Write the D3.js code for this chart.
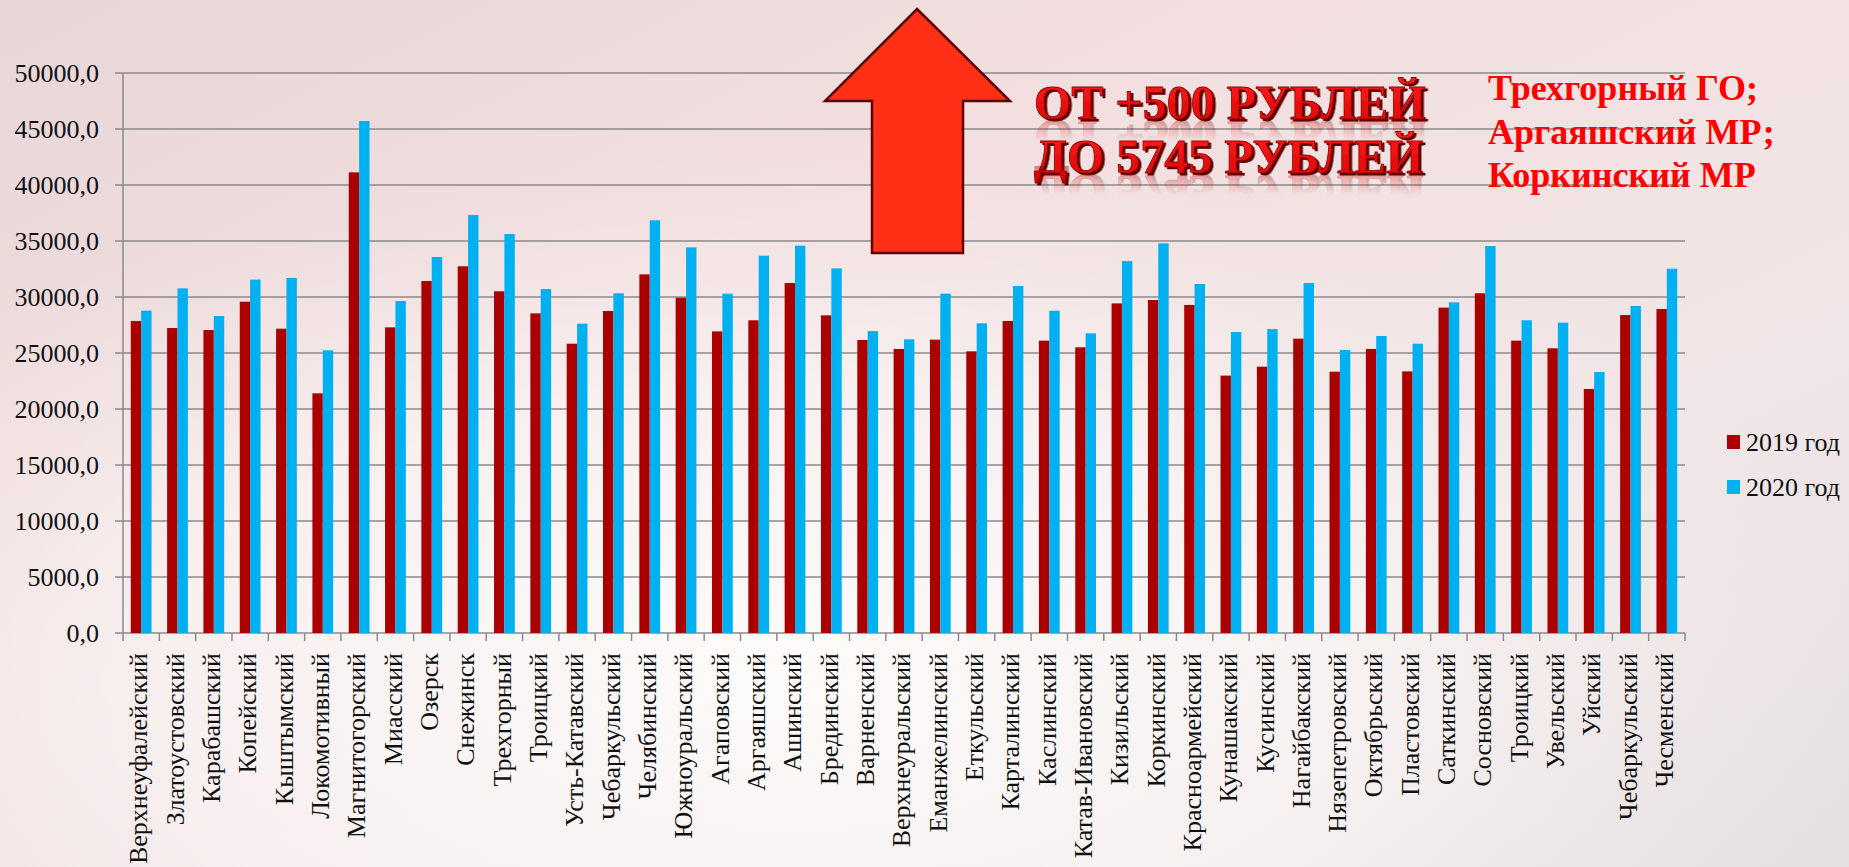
<!DOCTYPE html>
<meta charset="utf-8">
<head>
<style>
body { margin: 0; overflow: hidden; }
svg { display: block; }
text { font-family: "Liberation Serif", "Times New Roman", Tinos, serif; }
.grid line { stroke: #8a8a8a; stroke-width: 1.5; }
.ylab, .xlab, .leg { fill: #111; font-size: 26px; }
</style>
</head>
<body>
<svg width="1849" height="867"></svg>
<script src="https://cdn.jsdelivr.net/npm/d3@7/dist/d3.min.js"></script>
<script>

var districts = ["Верхнеуфалейский", "Златоустовский", "Карабашский", "Копейский", "Кыштымский",
  "Локомотивный", "Магнитогорский", "Миасский", "Озерск", "Снежинск", "Трехгорный", "Троицкий",
  "Усть-Катавский", "Чебаркульский", "Челябинский", "Южноуральский", "Агаповский", "Аргаяшский",
  "Ашинский", "Брединский", "Варненский", "Верхнеуральский", "Еманжелинский", "Еткульский",
  "Карталинский", "Каслинский", "Катав-Ивановский", "Кизильский", "Коркинский", "Красноармейский",
  "Кунашакский", "Кусинский", "Нагайбакский", "Нязепетровский", "Октябрьский", "Пластовский",
  "Саткинский", "Сосновский", "Троицкий ", "Увельский", "Уйский", "Чебаркульский ", "Чесменский"];

var vals2019 = [27860, 27230, 27050, 29580, 27170, 21400, 41130, 27290, 31430, 32740, 30510, 28540,
  25830, 28750, 32020, 29940, 26930, 27920, 31250, 28360, 26160, 25360, 26190, 25150,
  27860, 26100, 25510, 29430, 29730, 29290, 22980, 23780, 26280, 23330, 25360, 23360,
  29050, 30330, 26100, 25420, 21790, 28390, 28930];

var vals2020 = [28780, 30770, 28300, 31550, 31700, 25240, 45710, 29640, 33570, 37320, 35620, 30710,
  27620, 30330, 36850, 34430, 30300, 33690, 34580, 32560, 26960, 26220, 30300, 27650,
  30980, 28780, 26760, 33210, 34790, 31160, 26870, 27140, 31250, 25270, 26520, 25830,
  29520, 34550, 27920, 27710, 23300, 29200, 32530];

var seriesNames = ["2019 год", "2020 год"];
var seriesColors = ["#aa0000", "#00b0f0"];
var yTicks = [0, 5000, 10000, 15000, 20000, 25000, 30000, 35000, 40000, 45000, 50000];

var headline = ["ОТ +500 РУБЛЕЙ", "ДО 5745 РУБЛЕЙ"];
var leaders = ["Трехгорный ГО;", "Аргаяшский МР;", "Коркинский МР"];

var svg = d3.select("svg"),
    width = +svg.attr("width"),
    height = +svg.attr("height");

var defs = svg.append("defs");

// slide background
var bg = defs.append("linearGradient").attr("id", "bg").attr("x1", 0).attr("y1", 0).attr("x2", 1).attr("y2", 1);
bg.append("stop").attr("offset", 0).attr("stop-color", "#e7d6d8");
bg.append("stop").attr("offset", 0.35).attr("stop-color", "#f3dfdf");
bg.append("stop").attr("offset", 0.7).attr("stop-color", "#f1e6e7");
bg.append("stop").attr("offset", 1).attr("stop-color", "#e4dfe1");

var glow = defs.append("radialGradient").attr("id", "glow")
  .attr("cx", 0.42).attr("cy", 0.78).attr("r", 0.6);
glow.append("stop").attr("offset", 0).attr("stop-color", "#fdfbfb").attr("stop-opacity", 1);
glow.append("stop").attr("offset", 0.55).attr("stop-color", "#fbf6f6").attr("stop-opacity", 0.7);
glow.append("stop").attr("offset", 1).attr("stop-color", "#f6eeee").attr("stop-opacity", 0);

var redText = defs.append("linearGradient").attr("id", "redText").attr("x1", 0).attr("y1", 0).attr("x2", 0).attr("y2", 1);
redText.append("stop").attr("offset", 0).attr("stop-color", "#ff2020");
redText.append("stop").attr("offset", 1).attr("stop-color", "#d80000");

// fading mask for the reflection
var fade = defs.append("linearGradient").attr("id", "fade").attr("x1", 0).attr("y1", 0).attr("x2", 0).attr("y2", 1);
fade.append("stop").attr("offset", 0.45).attr("stop-color", "#fff").attr("stop-opacity", 0);
fade.append("stop").attr("offset", 1).attr("stop-color", "#fff").attr("stop-opacity", 0.45);
defs.append("mask").attr("id", "fadeMask")
  .attr("maskUnits", "objectBoundingBox").attr("maskContentUnits", "objectBoundingBox")
  .append("rect").attr("width", 1).attr("height", 1).attr("fill", "url(#fade)");

var shadow = defs.append("filter").attr("id", "shadow").attr("x", -0.05).attr("y", -0.2).attr("width", 1.1).attr("height", 1.4);
shadow.append("feDropShadow").attr("dx", 2.5).attr("dy", 2).attr("stdDeviation", 0.3)
  .attr("flood-color", "#5a0000").attr("flood-opacity", 1);

svg.append("rect").attr("width", width).attr("height", height).attr("fill", "url(#bg)");
svg.append("rect").attr("width", width).attr("height", height).attr("fill", "url(#glow)");

// plot area
var plotLeft = 123, plotRight = 1685, plotTop = 73, plotBottom = 633;

var x0 = d3.scaleBand().domain(districts).range([plotLeft, plotRight]).padding(0);
var x1 = d3.scaleBand().domain(seriesNames).range([0, x0.bandwidth()]).paddingInner(0).paddingOuter(0.75);
var y = d3.scaleLinear().domain([0, 50000]).range([plotBottom, plotTop]);

// gridlines + y axis
var grid = svg.append("g").attr("class", "grid");
grid.selectAll("line.h").data(yTicks).enter().append("line")
  .attr("class", "h")
  .attr("x1", plotLeft - 8).attr("x2", plotRight)
  .attr("y1", function(d) { return y(d); })
  .attr("y2", function(d) { return y(d); });

grid.append("line").attr("x1", plotLeft).attr("x2", plotLeft).attr("y1", plotTop).attr("y2", plotBottom);

// tick marks at category boundaries
var bounds = districts.map(function(d) { return x0(d); }).concat([plotRight]);
grid.selectAll("line.t").data(bounds).enter().append("line")
  .attr("class", "t")
  .attr("x1", function(d) { return d; }).attr("x2", function(d) { return d; })
  .attr("y1", plotBottom).attr("y2", plotBottom + 8);

svg.append("g").selectAll("text").data(yTicks).enter().append("text")
  .attr("class", "ylab")
  .attr("x", 99)
  .attr("y", function(d) { return y(d); })
  .attr("dy", "0.34em")
  .attr("text-anchor", "end")
  .text(function(d) { return d3.format(".1f")(d).replace(".", ","); });

// bars
var rows = districts.map(function(d, i) { return { name: d, v: [vals2019[i], vals2020[i]] }; });

var grp = svg.append("g").selectAll("g").data(rows).enter().append("g")
  .attr("transform", function(d) { return "translate(" + x0(d.name) + ",0)"; });

grp.selectAll("rect").data(function(d) {
    return seriesNames.map(function(s, k) { return { s: s, k: k, v: d.v[k] }; });
  }).enter().append("rect")
  .attr("x", function(d) { return x1(d.s); })
  .attr("width", x1.bandwidth())
  .attr("y", function(d) { return y(d.v); })
  .attr("height", function(d) { return plotBottom - y(d.v); })
  .attr("fill", function(d) { return seriesColors[d.k]; });

// category labels
svg.append("g").selectAll("text").data(districts).enter().append("text")
  .attr("class", "xlab")
  .attr("transform", function(d) {
    return "translate(" + (x0(d) + x0.bandwidth() / 2) + "," + (plotBottom + 20) + ") rotate(-90)";
  })
  .attr("dy", "0.24em")
  .attr("text-anchor", "end")
  .text(function(d) { return d.trim(); });

// legend
var leg = svg.append("g").selectAll("g").data(seriesNames).enter().append("g")
  .attr("transform", function(d, i) { return "translate(1727," + (442 + i * 45) + ")"; });
leg.append("rect").attr("x", 0).attr("y", -7).attr("width", 13).attr("height", 14)
  .attr("fill", function(d, i) { return seriesColors[i]; });
leg.append("text").attr("class", "leg").attr("x", 19).attr("dy", "0.34em").text(function(d) { return d; });

// big arrow
var arrow = [[917, 9], [1010, 101], [963, 101], [963, 253], [872, 253], [872, 101], [825, 101]];
svg.append("path")
  .attr("d", d3.line()(arrow) + "Z")
  .attr("fill", "#ff3015")
  .attr("stroke", "#5c0000")
  .attr("stroke-width", 2.5)
  .attr("stroke-linejoin", "miter");

// headline: shadow via filter, reflection via <use>
var hl = svg.append("g").style("font-weight", "bold").style("font-size", "48px");
headline.forEach(function(t, i) {
  var by = 119 + i * 54;
  hl.append("text").attr("id", "hl" + i).attr("x", 1034).attr("y", by)
    .attr("fill", "url(#redText)").attr("stroke", "#900000").attr("stroke-width", 0.8)
    .attr("filter", "url(#shadow)")
    .text(t);
  hl.append("use").attr("href", "#hl" + i)
    .attr("transform", "translate(0," + (2 * by + 3) + ") scale(1,-1)")
    .attr("mask", "url(#fadeMask)");
});

// leading districts
svg.append("g").selectAll("text").data(leaders).enter().append("text")
  .attr("x", 1488)
  .attr("y", function(d, i) { return 100 + i * 43.5; })
  .attr("fill", "#ff0000")
  .style("font-weight", "bold")
  .style("font-size", "36px")
  .text(function(d) { return d; });

</script>
</body>
